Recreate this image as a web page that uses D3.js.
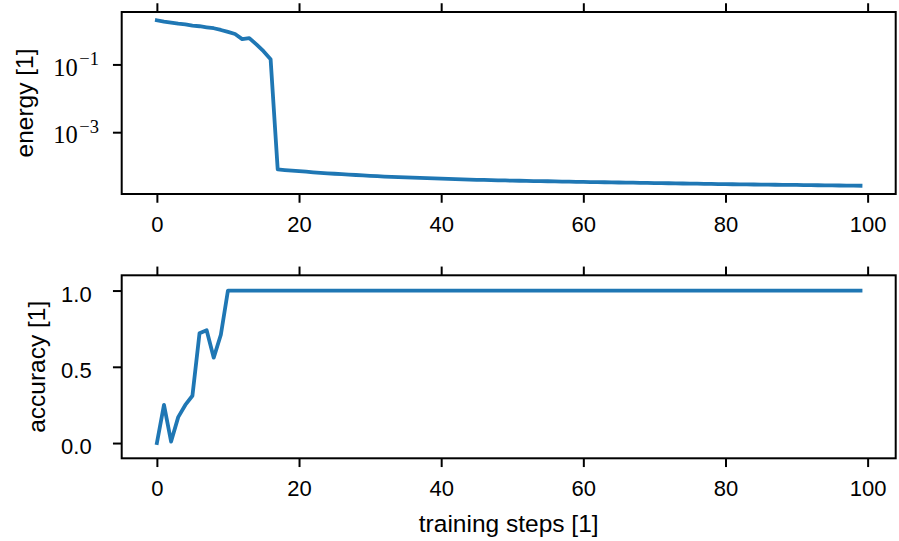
<!DOCTYPE html>
<html>
<head>
<meta charset="utf-8">
<script src="https://cdn.jsdelivr.net/npm/d3@7"></script>
<style>
  html, body { margin: 0; padding: 0; background: #fff; }
  svg { display: block; }
</style>
</head>
<body>
<svg id="chart" width="899" height="541"></svg>
<script>
// Energy per training step (log scale panel)
const energy = [
  2.01, 1.84, 1.72, 1.61, 1.53, 1.40, 1.34, 1.25, 1.17, 1.04,
  0.91, 0.79, 0.56, 0.60, 0.39, 0.245, 0.143,
  7.94e-5, 7.62e-5, 7.35e-5, 7.08e-5, 6.81e-5, 6.55e-5, 6.31e-5, 6.12e-5, 5.94e-5, 5.77e-5,
  5.61e-5, 5.46e-5, 5.31e-5, 5.16e-5, 5.04e-5, 4.91e-5, 4.79e-5, 4.70e-5, 4.61e-5, 4.53e-5,
  4.46e-5, 4.39e-5, 4.32e-5, 4.25e-5, 4.18e-5, 4.11e-5, 4.05e-5, 3.99e-5, 3.94e-5, 3.89e-5,
  3.85e-5, 3.80e-5, 3.76e-5, 3.72e-5, 3.69e-5, 3.66e-5, 3.62e-5, 3.59e-5, 3.56e-5, 3.52e-5,
  3.49e-5, 3.46e-5, 3.43e-5, 3.40e-5,
  3.37e-5, 3.35e-5, 3.33e-5, 3.30e-5, 3.27e-5, 3.25e-5, 3.23e-5, 3.21e-5, 3.18e-5, 3.16e-5,
  3.13e-5, 3.11e-5, 3.09e-5, 3.06e-5, 3.04e-5, 3.02e-5, 3.00e-5, 2.98e-5, 2.95e-5, 2.93e-5,
  2.91e-5, 2.89e-5,
  2.88e-5, 2.86e-5, 2.84e-5, 2.82e-5, 2.81e-5, 2.80e-5, 2.78e-5, 2.77e-5, 2.75e-5, 2.74e-5,
  2.72e-5, 2.70e-5, 2.69e-5, 2.67e-5, 2.66e-5, 2.65e-5, 2.63e-5
];

// Accuracy per training step
const accuracy = [
  0.0, 0.25, 0.01, 0.17, 0.25, 0.31, 0.72, 0.74, 0.56, 0.71,
  1, 1, 1, 1, 1, 1, 1, 1, 1, 1,
  1, 1, 1, 1, 1, 1, 1, 1, 1, 1,
  1, 1, 1, 1, 1, 1, 1, 1, 1, 1,
  1, 1, 1, 1, 1, 1, 1, 1, 1, 1,
  1, 1, 1, 1, 1, 1, 1, 1, 1, 1,
  1, 1, 1, 1, 1, 1, 1, 1, 1, 1,
  1, 1, 1, 1, 1, 1, 1, 1, 1, 1,
  1, 1, 1, 1, 1, 1, 1, 1, 1, 1,
  1, 1, 1, 1, 1, 1, 1, 1, 1, 1
];

const stepTicks = [0, 20, 40, 60, 80, 100];
const energyTicks = [1e-1, 1e-3];
const accuracyTicks = [0.0, 0.5, 1.0];

const xLabel = "training steps [1]";
const energyLabel = "energy [1]";
const accuracyLabel = "accuracy [1]";

// ---- layout ----
const left = 121.7, right = 895.7;
const topPanel = { y0: 12, y1: 194 };
const botPanel = { y0: 275.3, y1: 458.3 };
const TICK = 8.75;
const blue = "#1f77b4";
const sans = "'Liberation Sans', Arial, Helvetica, sans-serif";
const serif = "'Liberation Serif', 'Times New Roman', serif";

const svg = d3.select("#chart");

// x: step index with 5% padding on both sides
const n = energy.length;
const xPad = 0.05 * (n - 1);
const x = d3.scaleLinear().domain([-xPad, n - 1 + xPad]).range([left, right]);

// energy: log scale padded by 5% of the spanned decades
const lo = Math.log10(d3.min(energy)), hi = Math.log10(d3.max(energy));
const m = 0.05 * (hi - lo);
const yE = d3.scaleLog()
  .domain([Math.pow(10, lo - m), Math.pow(10, hi + m)])
  .range([topPanel.y1, topPanel.y0]);

const yA = d3.scaleLinear().domain([-0.1, 1.1]).range([botPanel.y1, botPanel.y0]);

function styleTicks(g) {
  g.select(".domain").remove();
  g.selectAll(".tick line").attr("stroke", "#000").attr("stroke-width", 2);
}

function drawPanel(panel, yScale, values, yAxisFn, yLabelText, yLabelX) {
  const g = svg.append("g");

  // series line
  const line = d3.line()
    .x((d, i) => x(i))
    .y(d => yScale(d));
  g.append("path")
    .datum(values)
    .attr("d", line)
    .attr("fill", "none")
    .attr("stroke", blue)
    .attr("stroke-width", 3.8)
    .attr("stroke-linejoin", "round")
    .attr("stroke-linecap", "square");

  // bottom x axis with labels
  const xb = g.append("g")
    .attr("transform", `translate(0,${panel.y1})`)
    .call(d3.axisBottom(x).tickValues(stepTicks).tickSize(TICK).tickFormat(d3.format("d")));
  styleTicks(xb);
  xb.selectAll(".tick text")
    .attr("y", 37.5)
    .attr("dy", 0)
    .attr("fill", "#000")
    .style("font-family", sans)
    .style("font-size", "22px");

  // mirrored ticks on the top edge
  const xt = g.append("g")
    .attr("transform", `translate(0,${panel.y0})`)
    .call(d3.axisTop(x).tickValues(stepTicks).tickSize(TICK).tickFormat(""));
  styleTicks(xt);
  xt.selectAll(".tick text").remove();

  // y axis
  const ya = g.append("g")
    .attr("transform", `translate(${left},0)`);
  yAxisFn(ya);

  // y label
  g.append("text")
    .attr("transform", `translate(${yLabelX},${(panel.y0 + panel.y1) / 2}) rotate(-90)`)
    .attr("text-anchor", "middle")
    .style("font-family", sans)
    .style("font-size", "24.5px")
    .attr("fill", "#000")
    .text(yLabelText);

  // spines
  g.append("rect")
    .attr("x", left)
    .attr("y", panel.y0)
    .attr("width", right - left)
    .attr("height", panel.y1 - panel.y0)
    .attr("fill", "none")
    .attr("stroke", "#000")
    .attr("stroke-width", 2);
}

// top panel: energy on a log axis with power-of-ten labels
drawPanel(topPanel, yE, energy, ya => {
  ya.call(d3.axisLeft(yE).tickValues(energyTicks).tickSize(TICK).tickFormat(""));
  styleTicks(ya);
  ya.selectAll(".tick text").each(function (d) {
    const t = d3.select(this)
      .attr("x", -22.7)
      .attr("dy", 0)
      .attr("y", 10.7)
      .attr("text-anchor", "end")
      .attr("fill", "#000")
      .style("font-family", serif)
      .style("font-size", "24.5px")
      .text(null);
    const exp = Math.round(Math.log10(d));
    t.append("tspan").text("10");
    t.append("tspan")
      .attr("dy", -10.5)
      .attr("dx", 1.5)
      .style("font-size", "18.5px")
      .text((exp < 0 ? "\u2212" : "") + Math.abs(exp));
  });
}, energyLabel, 33);

// bottom panel: accuracy on a linear axis
drawPanel(botPanel, yA, accuracy, ya => {
  ya.call(d3.axisLeft(yA).tickValues(accuracyTicks).tickSize(TICK).tickFormat(d3.format(".1f")));
  styleTicks(ya);
  ya.selectAll(".tick text")
    .attr("x", -30)
    .attr("dy", 0)
    .attr("y", 10.8)
    .attr("fill", "#000")
    .style("font-family", sans)
    .style("font-size", "22px");
}, accuracyLabel, 45);

// shared x label
svg.append("text")
  .attr("x", (left + right) / 2)
  .attr("y", 532)
  .attr("text-anchor", "middle")
  .style("font-family", sans)
  .style("font-size", "24.5px")
  .attr("fill", "#000")
  .text(xLabel);
</script>
</body>
</html>
